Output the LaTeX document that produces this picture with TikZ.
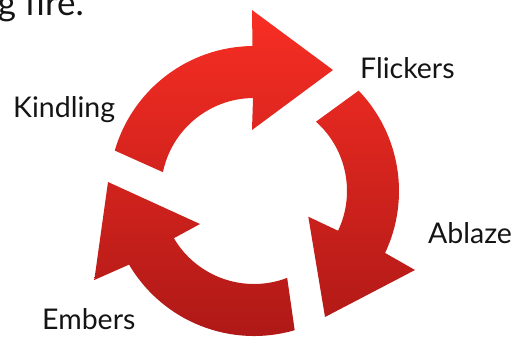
\documentclass[tikz,border=0pt]{standalone}
\usepackage{fontspec}
\setmainfont{Lato}
\definecolor{firetop}{RGB}{248,46,36}
\definecolor{firebot}{RGB}{172,24,22}
\begin{document}
\begin{tikzpicture}[x=1pt,y=1pt,
  lbl/.style={anchor=base west, inner sep=0pt, font=\fontsize{28.5}{34}\selectfont, text=black!92},
  ringarrow/.style={top color=firetop, bottom color=firebot}]
\useasboundingbox (-254,-147) rectangle (262,191);
% three circular arrows, one shaded path
\shade[ringarrow]
  % Kindling -> Flickers (top)
  (163.8:145) arc[start angle=163.8, end angle=90.6, radius=145]
    -- (-2,181) -- (79,121) -- (-2,61) -- (90.6:93)
    arc[start angle=90.6, end angle=168.3, radius=93] -- cycle
  % Flickers -> Ablaze (right)
  (43.8:145) arc[start angle=43.8, end angle=-25.3, radius=145]
    -- (161,-79) -- (71,-126) -- (54.3,-25.7) -- (-25.3:93)
    arc[start angle=-25.3, end angle=48.2, radius=93] -- cycle
  % Embers -> Kindling (left)
  (286.3:145) arc[start angle=286.3, end angle=210.5, radius=145]
    -- (-159.7,-89) -- (-146,9) -- (-54,-33) -- (210.5:93)
    arc[start angle=210.5, end angle=290.9, radius=93] -- cycle;
% labels
\node[lbl, anchor=base east, font=\fontsize{35}{40}\selectfont] (title) at (-170,176) {g fire.};
\node[lbl] (kindling) at (-241,74) {Kindling};
\node[lbl] (flickers) at (106,113) {Flickers};
\node[lbl] (ablaze) at (174,-52) {Ablaze};
\node[lbl] (embers) at (-212,-138) {Embers};
\end{tikzpicture}
\end{document}
